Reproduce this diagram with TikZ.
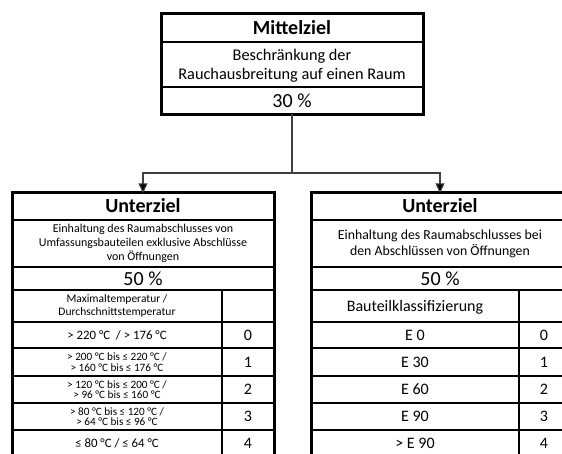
\documentclass[tikz,border=0pt]{standalone}
\usepackage{fontspec}
\setmainfont{Carlito}
\usetikzlibrary{arrows.meta}

\begin{document}
\begin{tikzpicture}[x=1pt,y=-1pt,
  cell/.style={inner sep=0pt, align=center},
  title/.style={cell, font=\fontsize{20}{22}\selectfont\bfseries},
  pct/.style={cell, font=\fontsize{20}{22}\selectfont},
  desctop/.style={cell, font=\fontsize{16.3}{18.5}\selectfont},
  descleft/.style={cell, font=\fontsize{12}{14}\selectfont},
  descright/.style={cell, font=\fontsize{13.8}{16.5}\selectfont},
  thhead/.style={cell, font=\fontsize{11.5}{13.5}\selectfont},
  rowtxt/.style={cell, font=\fontsize{11.2}{10.5}\selectfont},
  rowone/.style={cell, font=\fontsize{12.8}{14}\selectfont},
  bigtxt/.style={cell, font=\fontsize{16}{18}\selectfont},
  outer/.style={line width=3pt},
  sep/.style={line width=2.5pt},
  rowsep/.style={line width=1.8pt},
  colsep/.style={line width=2pt},
  conn/.style={line width=1.1pt, draw=black!75},
  arr/.style={conn, -{Triangle[width=9pt,length=10pt,fill=black]}}
]
\useasboundingbox (0,0) rectangle (562,453);
\clip (0,0) rectangle (562,453);

% ---- Mittelziel box ----
\draw[outer] (161,13) rectangle (423,114);
\draw[sep] (161,42) -- (423,42);
\draw[sep] (161,87) -- (423,87);
\node[title, minimum height=29pt] (mz) at (292,27.5) {Mittelziel};
\node[desctop] (mzd) at (292,65.5) {Beschränkung der\\Rauchausbreitung auf einen Raum};
\node[pct, minimum height=27pt] (mzp) at (292,100.5) {30 \%};

% ---- left Unterziel box ----
\draw[outer] (12,192) rectangle (274,470);
\draw[sep] (12,220) -- (274,220);
\draw[sep] (12,267) -- (274,267);
\draw[sep] (12,290) -- (274,290);
\foreach \yy in {322,348,376,403,430}
  \draw[rowsep] (12,\yy) -- (274,\yy);
\draw[colsep] (222,290) -- (222,470);
\node[title, minimum height=28pt] (uzl) at (143,206) {Unterziel};
\node[descleft] (uzld) at (143,243.5) {Einhaltung des Raumabschlusses von\\Umfassungsbauteilen exklusive Abschlüsse\\von Öffnungen};
\node[pct] (uzlp) at (143,278.5) {50 \%};
\node[thhead] (lh) at (117,306) {Maximaltemperatur /\\Durchschnittstemperatur};
\node[rowone] (l0) at (117,335) {> 220 °C \ / > 176 °C};
\node[rowtxt] (l1) at (117,362) {> 200 °C bis ≤ 220 °C /\\> 160 °C bis ≤ 176 °C};
\node[rowtxt] (l2) at (117,389.5) {> 120 °C bis ≤ 200 °C /\\> 96 °C bis ≤ 160 °C};
\node[rowtxt] (l3) at (117,416.5) {> 80 °C bis ≤ 120 °C /\\> 64 °C bis ≤ 96 °C};
\node[rowone] (l4) at (117,443.5) {≤ 80 °C / ≤ 64 °C};
\node[bigtxt] (ln0) at (248,335) {0};
\node[bigtxt] (ln1) at (248,362) {1};
\node[bigtxt] (ln2) at (248,389.5) {2};
\node[bigtxt] (ln3) at (248,416.5) {3};
\node[bigtxt] (ln4) at (248,443.5) {4};

% ---- right Unterziel box ----
\draw[outer] (311,192) rectangle (569,470);
\draw[sep] (311,220) -- (569,220);
\draw[sep] (311,267) -- (569,267);
\draw[sep] (311,290) -- (569,290);
\foreach \yy in {322,348,376,403,430}
  \draw[rowsep] (311,\yy) -- (569,\yy);
\draw[colsep] (519,290) -- (519,470);
\node[title, minimum height=28pt] (uzr) at (440,206) {Unterziel};
\node[descright] (uzrd) at (440,244) {Einhaltung des Raumabschlusses bei\\den Abschlüssen von Öffnungen};
\node[pct] (uzrp) at (440,278.5) {50 \%};
\node[bigtxt] (rh) at (415,307) {Bauteilklassifizierung};
\node[bigtxt] (r0) at (415,335) {E 0};
\node[bigtxt] (r1) at (415,362) {E 30};
\node[bigtxt] (r2) at (415,389.5) {E 60};
\node[bigtxt] (r3) at (415,416.5) {E 90};
\node[bigtxt] (r4) at (415,443.5) {> E 90};
\node[bigtxt] (rn0) at (544,335) {0};
\node[bigtxt] (rn1) at (544,362) {1};
\node[bigtxt] (rn2) at (544,389.5) {2};
\node[bigtxt] (rn3) at (544,416.5) {3};
\node[bigtxt] (rn4) at (544,443.5) {4};

% ---- connectors ----
\coordinate (split) at (292,173);
\draw[conn] (mzp.south) -- (split);
\draw[arr] (split) -| ([yshift=-1.5pt]uzl.north);
\draw[arr] (split) -| ([yshift=-1.5pt]uzr.north);
\end{tikzpicture}
\end{document}
